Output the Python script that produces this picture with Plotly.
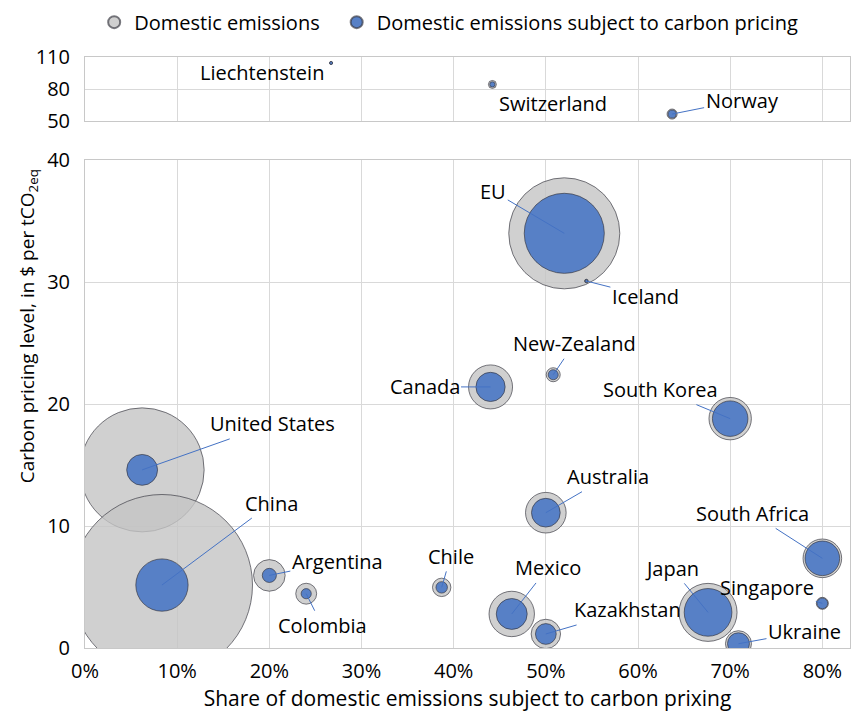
import plotly.graph_objects as go

# ---------------- data ----------------
countries = ["United States", "China", "Argentina", "Colombia", "Chile", "Mexico",
             "Kazakhstan", "Australia", "Canada", "New-Zealand", "EU", "Iceland",
             "South Korea", "South Africa", "Singapore", "Japan", "Ukraine"]
share = [0.062, 0.0835, 0.200, 0.240, 0.387, 0.463, 0.500, 0.500, 0.440, 0.508,
         0.520, 0.544, 0.700, 0.800, 0.800, 0.676, 0.709]
price = [14.6, 5.16, 5.95, 4.45, 4.97, 2.79, 1.15, 11.09, 21.4, 22.4, 33.99, 30.08,
         18.8, 7.35, 3.66, 2.92, 0.35]
total_emissions = [5630, 12000, 366, 160, 124, 755, 317, 604, 709, 72, 4513, 4.7,
                   658, 546, 53, 1232, 248]
covered_emissions = [349, 1002, 73, 38, 48, 350, 158, 302, 312, 37, 2347, 2.6,
                     461, 437, 42, 833, 176]

countries_top = ["Liechtenstein", "Switzerland", "Norway"]
share_top = [0.267, 0.442, 0.637]
price_top = [104.4, 84.3, 56.5]
total_top = [0.2, 23, 37]
covered_top = [0.05, 10, 23.6]

x_ticks = [0, 0.1, 0.2, 0.3, 0.4, 0.5, 0.6, 0.7, 0.8]
y_ticks = [0, 10, 20, 30, 40]
y_ticks_top = [50, 80, 110]

# ---------------- label placement (pixel offsets) ----------------
label_offsets = {
    "United States": (130, -46), "China": (110, -82), "Argentina": (68, -14),
    "Colombia": (16, 32), "Chile": (9, -31), "Mexico": (36, -46),
    "Kazakhstan": (82, -24), "Australia": (62, -36), "Canada": (-66, 0),
    "New-Zealand": (21, -31), "EU": (-71, -42), "Iceland": (59, 15),
    "South Korea": (-70, -29), "South Africa": (-70, -45), "Singapore": (-55, -16),
    "Japan": (-36, -44), "Ukraine": (66, -12), "Norway": (70, -14),
}
plain_offsets = {"Liechtenstein": (-69, -10), "Switzerland": (61, -19)}

FONT = "Open Sans"
FS = 20
GREY = "rgba(196,196,196,0.8)"
BLUE = "#5780C6"
EDGE = "rgba(50,50,60,0.65)"
LEADER = "#4472C4"
SIZEREF = 0.732

fig = go.Figure()

def bubbles(x, y, s, name, color, xa, ya, show, leg):
    return go.Scatter(
        x=x, y=y, mode="markers", name=name, showlegend=show, legend=leg,
        xaxis=xa, yaxis=ya,
        marker=dict(size=s, sizemode="area", sizeref=SIZEREF, sizemin=1.5,
                    color=color, opacity=1, line=dict(color=EDGE, width=1)),
        hoverinfo="skip",
    )

fig.add_trace(bubbles(share, price, total_emissions, "Domestic emissions", GREY,
                      "x", "y", True, "legend"))
fig.add_trace(bubbles(share, price, covered_emissions,
                      "Domestic emissions subject to carbon pricing", BLUE,
                      "x", "y", True, "legend2"))
fig.add_trace(bubbles(share_top, price_top, total_top, "Domestic emissions", GREY,
                      "x2", "y2", False, "legend"))
fig.add_trace(bubbles(share_top, price_top, covered_top,
                      "Domestic emissions subject to carbon pricing", BLUE,
                      "x2", "y2", False, "legend2"))

lab_font = dict(family=FONT, size=FS, color="black")
annotations = []
for c, xv, yv in zip(countries, share, price):
    ax, ay = label_offsets[c]
    annotations.append(dict(x=xv, y=yv, xref="x", yref="y", text=c, showarrow=True,
                            ax=ax, ay=ay, arrowhead=0, arrowwidth=1, arrowcolor=LEADER,
                            standoff=0, font=lab_font))
for c, xv, yv in zip(countries_top, share_top, price_top):
    if c in label_offsets:
        ax, ay = label_offsets[c]
        annotations.append(dict(x=xv, y=yv, xref="x2", yref="y2", text=c, showarrow=True,
                                ax=ax, ay=ay, arrowhead=0, arrowwidth=1, arrowcolor=LEADER,
                                standoff=0, font=lab_font))
    else:
        dx, dy = plain_offsets[c]
        annotations.append(dict(x=xv, y=yv, xref="x2", yref="y2", text=c, showarrow=False,
                                xshift=dx, yshift=dy, font=lab_font))

annotations.append(dict(
    text="Carbon pricing level, in $ per tCO<sub>2eq</sub>", textangle=-90,
    xref="paper", yref="paper", x=-0.074, y=0.545, xanchor="center", yanchor="middle",
    showarrow=False, font=dict(family=FONT, size=19, color="black")))

axis_common = dict(showline=True, linecolor="#c8c8c8", linewidth=1, mirror=True,
                   showgrid=True, gridcolor="#d9d9d9", gridwidth=1, zeroline=False,
                   tickfont=dict(family=FONT, size=FS, color="black"))

leg_common = dict(orientation="h", y=1.059, xanchor="left", yanchor="middle",
                  itemsizing="constant", font=dict(family=FONT, size=FS, color="black"),
                  itemwidth=30, bgcolor="rgba(0,0,0,0)")

fig.update_layout(
    width=867, height=716,
    margin=dict(l=85, r=17, t=57, b=68, autoexpand=False),
    paper_bgcolor="white", plot_bgcolor="white",
    font=dict(family=FONT, size=FS, color="black"),
    xaxis=dict(domain=[0, 1], anchor="y", range=[0, 0.83], tickvals=x_ticks,
               tickformat=".0%", ticks="outside", ticklen=5, tickcolor="rgba(0,0,0,0)",
               title=dict(text="Share of domestic emissions subject to carbon prixing",
                          font=dict(family=FONT, size=21, color="black"), standoff=2),
               **axis_common),
    yaxis=dict(domain=[0, 0.8257], anchor="x", range=[0, 40], tickvals=y_ticks,
               ticks="outside", ticklen=10, tickcolor="rgba(0,0,0,0)", **axis_common),
    xaxis2=dict(domain=[0, 1], anchor="y2", matches="x", range=[0, 0.83], tickvals=x_ticks,
                showticklabels=False, **axis_common),
    yaxis2=dict(domain=[0.8917, 1], anchor="x2", range=[50, 110], tickvals=y_ticks_top,
                ticks="outside", ticklen=10, tickcolor="rgba(0,0,0,0)", **axis_common),
    legend=dict(x=0.012, **leg_common),
    legend2=dict(x=0.329, **leg_common),
    annotations=annotations,
)

fig.write_html("out.html")
